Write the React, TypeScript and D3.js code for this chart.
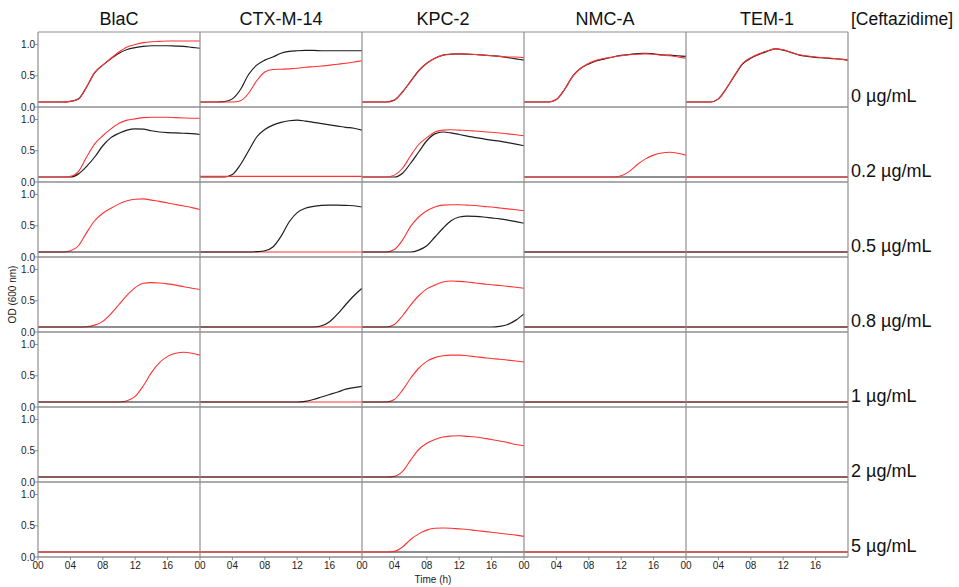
import React from "react";
import * as d3 from "d3";

const TIME = [0, 1, 2, 3, 4, 5, 6, 7, 8, 9, 10, 11, 12, 13, 14, 15, 16, 17, 18, 19, 20];
const COLUMNS = ["BlaC", "CTX-M-14", "KPC-2", "NMC-A", "TEM-1"];
const CONCENTRATIONS = ["0 µg/mL", "0.2 µg/mL", "0.5 µg/mL", "0.8 µg/mL", "1 µg/mL", "2 µg/mL", "5 µg/mL"];
const Y_TICKS = [0, 0.5, 1.0];
const X_TICKS = [0, 4, 8, 12, 16];
const X_TICK_LABELS = ["00", "04", "08", "12", "16"];

const FLAT = [0.08, 0.08, 0.08, 0.08, 0.08, 0.08, 0.08, 0.08, 0.08, 0.08, 0.08, 0.08, 0.08, 0.08, 0.08, 0.08, 0.08, 0.08, 0.08, 0.08, 0.08];
const FLAT_HI = [0.09, 0.09, 0.09, 0.09, 0.09, 0.09, 0.09, 0.09, 0.09, 0.09, 0.09, 0.09, 0.09, 0.09, 0.09, 0.09, 0.09, 0.09, 0.09, 0.09, 0.09];

const BLAC_BLACK = [
  [0.08, 0.08, 0.08, 0.08, 0.09, 0.13, 0.32, 0.55, 0.67, 0.77, 0.86, 0.92, 0.95, 0.97, 0.98, 0.98, 0.98, 0.975, 0.97, 0.955, 0.94],
  [0.08, 0.08, 0.08, 0.08, 0.08, 0.13, 0.25, 0.40, 0.58, 0.71, 0.78, 0.83, 0.85, 0.845, 0.82, 0.80, 0.79, 0.785, 0.78, 0.775, 0.76],
  FLAT, FLAT, FLAT, FLAT, FLAT,
];
const BLAC_RED = [
  [0.08, 0.08, 0.08, 0.08, 0.09, 0.13, 0.32, 0.55, 0.67, 0.78, 0.88, 0.96, 1.0, 1.03, 1.045, 1.05, 1.055, 1.055, 1.055, 1.055, 1.055],
  [0.08, 0.08, 0.08, 0.08, 0.09, 0.17, 0.40, 0.61, 0.74, 0.85, 0.94, 0.99, 1.01, 1.03, 1.035, 1.035, 1.035, 1.03, 1.025, 1.02, 1.02],
  [0.08, 0.08, 0.08, 0.08, 0.10, 0.18, 0.39, 0.58, 0.70, 0.78, 0.85, 0.90, 0.925, 0.93, 0.91, 0.89, 0.865, 0.84, 0.815, 0.79, 0.76],
  [0.08, 0.08, 0.08, 0.08, 0.08, 0.08, 0.085, 0.11, 0.17, 0.29, 0.44, 0.59, 0.71, 0.78, 0.79, 0.785, 0.77, 0.75, 0.725, 0.70, 0.68],
  [0.08, 0.08, 0.08, 0.08, 0.08, 0.08, 0.08, 0.08, 0.08, 0.08, 0.08, 0.10, 0.17, 0.34, 0.55, 0.71, 0.81, 0.86, 0.875, 0.86, 0.83],
  FLAT, FLAT,
];

const CTX_BLACK = [
  [0.08, 0.08, 0.08, 0.085, 0.13, 0.28, 0.52, 0.67, 0.75, 0.80, 0.86, 0.89, 0.90, 0.905, 0.905, 0.90, 0.90, 0.90, 0.90, 0.90, 0.90],
  [0.08, 0.08, 0.08, 0.08, 0.12, 0.28, 0.50, 0.72, 0.84, 0.91, 0.955, 0.98, 0.99, 0.975, 0.955, 0.935, 0.915, 0.895, 0.875, 0.86, 0.83],
  [0.08, 0.08, 0.08, 0.08, 0.08, 0.08, 0.08, 0.085, 0.10, 0.16, 0.33, 0.56, 0.71, 0.78, 0.81, 0.825, 0.83, 0.83, 0.825, 0.82, 0.80],
  [0.08, 0.08, 0.08, 0.08, 0.08, 0.08, 0.08, 0.08, 0.08, 0.08, 0.08, 0.08, 0.08, 0.08, 0.08, 0.10, 0.165, 0.29, 0.44, 0.58, 0.70],
  [0.08, 0.08, 0.08, 0.08, 0.08, 0.08, 0.08, 0.08, 0.08, 0.08, 0.08, 0.08, 0.08, 0.09, 0.12, 0.16, 0.20, 0.24, 0.285, 0.31, 0.33],
  FLAT, FLAT,
];
const CTX_RED = [
  [0.08, 0.08, 0.08, 0.08, 0.08, 0.10, 0.22, 0.42, 0.56, 0.60, 0.605, 0.61, 0.62, 0.635, 0.645, 0.655, 0.67, 0.685, 0.70, 0.72, 0.74],
  FLAT_HI, FLAT, FLAT, FLAT, FLAT, FLAT,
];

const KPC_BLACK = [
  [0.08, 0.08, 0.08, 0.08, 0.11, 0.24, 0.41, 0.58, 0.70, 0.78, 0.83, 0.845, 0.85, 0.845, 0.84, 0.83, 0.82, 0.81, 0.79, 0.77, 0.75],
  [0.08, 0.08, 0.08, 0.08, 0.08, 0.14, 0.30, 0.48, 0.66, 0.77, 0.80, 0.785, 0.76, 0.735, 0.71, 0.69, 0.67, 0.655, 0.63, 0.605, 0.58],
  [0.08, 0.08, 0.08, 0.08, 0.08, 0.08, 0.08, 0.11, 0.18, 0.32, 0.46, 0.58, 0.64, 0.655, 0.65, 0.64, 0.625, 0.61, 0.59, 0.565, 0.54],
  [0.08, 0.08, 0.08, 0.08, 0.08, 0.08, 0.08, 0.08, 0.08, 0.08, 0.08, 0.08, 0.08, 0.08, 0.08, 0.08, 0.08, 0.09, 0.12, 0.19, 0.29],
  FLAT, FLAT, FLAT,
];
const KPC_RED = [
  [0.08, 0.08, 0.08, 0.08, 0.11, 0.24, 0.41, 0.58, 0.70, 0.78, 0.83, 0.845, 0.85, 0.845, 0.84, 0.83, 0.82, 0.81, 0.80, 0.80, 0.79],
  [0.08, 0.08, 0.08, 0.08, 0.11, 0.22, 0.42, 0.60, 0.71, 0.80, 0.83, 0.835, 0.83, 0.825, 0.815, 0.805, 0.795, 0.785, 0.77, 0.755, 0.74],
  [0.08, 0.08, 0.08, 0.08, 0.12, 0.27, 0.49, 0.64, 0.74, 0.80, 0.83, 0.835, 0.835, 0.83, 0.825, 0.81, 0.80, 0.785, 0.77, 0.755, 0.74],
  [0.08, 0.08, 0.08, 0.08, 0.12, 0.26, 0.43, 0.58, 0.69, 0.75, 0.80, 0.815, 0.81, 0.80, 0.785, 0.77, 0.755, 0.745, 0.73, 0.715, 0.70],
  [0.08, 0.08, 0.08, 0.08, 0.12, 0.27, 0.46, 0.62, 0.73, 0.79, 0.82, 0.83, 0.83, 0.82, 0.805, 0.79, 0.775, 0.765, 0.75, 0.735, 0.72],
  [0.08, 0.08, 0.08, 0.08, 0.09, 0.17, 0.35, 0.52, 0.62, 0.68, 0.72, 0.735, 0.74, 0.73, 0.72, 0.70, 0.68, 0.655, 0.63, 0.60, 0.58],
  [0.08, 0.08, 0.08, 0.08, 0.09, 0.16, 0.28, 0.37, 0.43, 0.46, 0.465, 0.46, 0.45, 0.44, 0.425, 0.41, 0.395, 0.38, 0.365, 0.35, 0.33],
];

const NMC_BLACK = [
  [0.08, 0.08, 0.08, 0.08, 0.12, 0.28, 0.49, 0.62, 0.69, 0.74, 0.77, 0.80, 0.825, 0.84, 0.855, 0.86, 0.85, 0.835, 0.83, 0.82, 0.81],
  FLAT, FLAT, FLAT, FLAT, FLAT, FLAT,
];
const NMC_RED = [
  [0.08, 0.08, 0.08, 0.08, 0.12, 0.28, 0.49, 0.62, 0.70, 0.75, 0.78, 0.80, 0.82, 0.835, 0.845, 0.85, 0.845, 0.83, 0.82, 0.80, 0.78],
  [0.08, 0.08, 0.08, 0.08, 0.08, 0.08, 0.08, 0.08, 0.08, 0.08, 0.08, 0.08, 0.10, 0.17, 0.28, 0.37, 0.43, 0.465, 0.475, 0.46, 0.43],
  FLAT, FLAT, FLAT, FLAT, FLAT,
];

const TEM_BLACK = [
  [0.08, 0.08, 0.08, 0.08, 0.13, 0.30, 0.50, 0.69, 0.78, 0.84, 0.89, 0.93, 0.91, 0.87, 0.83, 0.81, 0.795, 0.785, 0.775, 0.765, 0.75],
  FLAT, FLAT, FLAT, FLAT, FLAT, FLAT,
];
const TEM_RED = [
  [0.08, 0.08, 0.08, 0.08, 0.13, 0.30, 0.51, 0.70, 0.79, 0.85, 0.895, 0.93, 0.915, 0.875, 0.835, 0.815, 0.80, 0.79, 0.78, 0.765, 0.75],
  FLAT, FLAT, FLAT, FLAT, FLAT, FLAT,
];

const BLACK_SERIES = [BLAC_BLACK, CTX_BLACK, KPC_BLACK, NMC_BLACK, TEM_BLACK];
const RED_SERIES = [BLAC_RED, CTX_RED, KPC_RED, NMC_RED, TEM_RED];
const BLACK_ON_TOP_ROWS = [2, 3, 4, 5];

const W = 959;
const H = 587;
const LEFT = 38;
const TOP = 32;
const PW = 162;
const PH = 75;
const FONT = "'Liberation Sans', Arial, sans-serif";
const GRID = "#8f8f8f";
const BLACK = "#1e1e1e";
const RED = "#ff3333";

export default function App() {
  const x = d3.scaleLinear().domain([0, 20]).range([0, PW]);
  const y = d3.scaleLinear().domain([0, 1.2]).range([PH, 0]);
  const line = d3
    .line<number>()
    .x((_, i) => x(TIME[i]))
    .y((d) => y(d))
    .curve(d3.curveMonotoneX);

  const nRows = CONCENTRATIONS.length;
  const nCols = COLUMNS.length;
  const bottom = TOP + nRows * PH;
  const right = LEFT + nCols * PW;

  return (
    <svg
      width={W}
      height={H}
      style={{ position: "absolute", left: 0, top: 0, background: "#fff" }}
      fontFamily={FONT}
    >
      <rect x={0} y={0} width={W} height={H} fill="#fff" />
      {COLUMNS.map((c, ci) => (
        <text key={c} x={LEFT + PW * (ci + 0.5)} y={25} fontSize={18} textAnchor="middle" fill="#111">
          {c}
        </text>
      ))}
      <text x={851} y={25} fontSize={17.5} fill="#111">[Ceftazidime]</text>
      {CONCENTRATIONS.map((c, ri) => (
        <text key={c} x={851} y={TOP + (ri + 1) * PH - 5} fontSize={18} fill="#111">
          {c}
        </text>
      ))}

      {CONCENTRATIONS.map((_, ri) =>
        COLUMNS.map((__, ci) => {
          const blackOnTop = BLACK_ON_TOP_ROWS.includes(ri);
          const b = (
            <path key="b" d={line(BLACK_SERIES[ci][ri]) || ""} fill="none" stroke={BLACK} strokeWidth={1.2} />
          );
          const r = (
            <path key="r" d={line(RED_SERIES[ci][ri]) || ""} fill="none" stroke={RED} strokeWidth={1.1} />
          );
          return (
            <g key={`${ri}-${ci}`} transform={`translate(${LEFT + ci * PW},${TOP + ri * PH})`}>
              {blackOnTop ? [r, b] : [b, r]}
            </g>
          );
        })
      )}

      <line x1={LEFT} x2={right} y1={TOP} y2={TOP} stroke={GRID} strokeWidth={1.2} />
      {CONCENTRATIONS.map((_, ri) => (
        <line
          key={`h${ri}`}
          x1={LEFT}
          x2={right}
          y1={TOP + (ri + 1) * PH}
          y2={TOP + (ri + 1) * PH}
          stroke={GRID}
          strokeWidth={1.4}
        />
      ))}
      {d3.range(nCols + 1).map((ci) => (
        <line
          key={`v${ci}`}
          x1={LEFT + ci * PW}
          x2={LEFT + ci * PW}
          y1={TOP}
          y2={bottom}
          stroke={GRID}
          strokeWidth={1.2}
        />
      ))}

      {CONCENTRATIONS.map((_, ri) =>
        Y_TICKS.map((t) => {
          const yy = TOP + ri * PH + y(t);
          return (
            <g key={`yt${ri}-${t}`}>
              <line x1={LEFT - 3} x2={LEFT} y1={yy} y2={yy} stroke="#777" strokeWidth={0.8} />
              <text x={LEFT - 3} y={yy + 3.6} fontSize={10} textAnchor="end" fill="#222">
                {t.toFixed(1)}
              </text>
            </g>
          );
        })
      )}

      {COLUMNS.map((_, ci) =>
        X_TICKS.map((t, ti) => {
          const xx = LEFT + ci * PW + x(t);
          return (
            <g key={`xt${ci}-${t}`}>
              <line x1={xx} x2={xx} y1={bottom} y2={bottom + 3} stroke="#777" strokeWidth={0.8} />
              <text x={xx} y={bottom + 12} fontSize={10} textAnchor="middle" fill="#222">
                {X_TICK_LABELS[ti]}
              </text>
            </g>
          );
        })
      )}

      <text x={433} y={583} fontSize={10} textAnchor="middle" fill="#222">
        Time (h)
      </text>
      <text
        transform={`translate(16,${(TOP + bottom) / 2}) rotate(-90)`}
        fontSize={10}
        textAnchor="middle"
        fill="#222"
      >
        OD (600 nm)
      </text>
    </svg>
  );
}
